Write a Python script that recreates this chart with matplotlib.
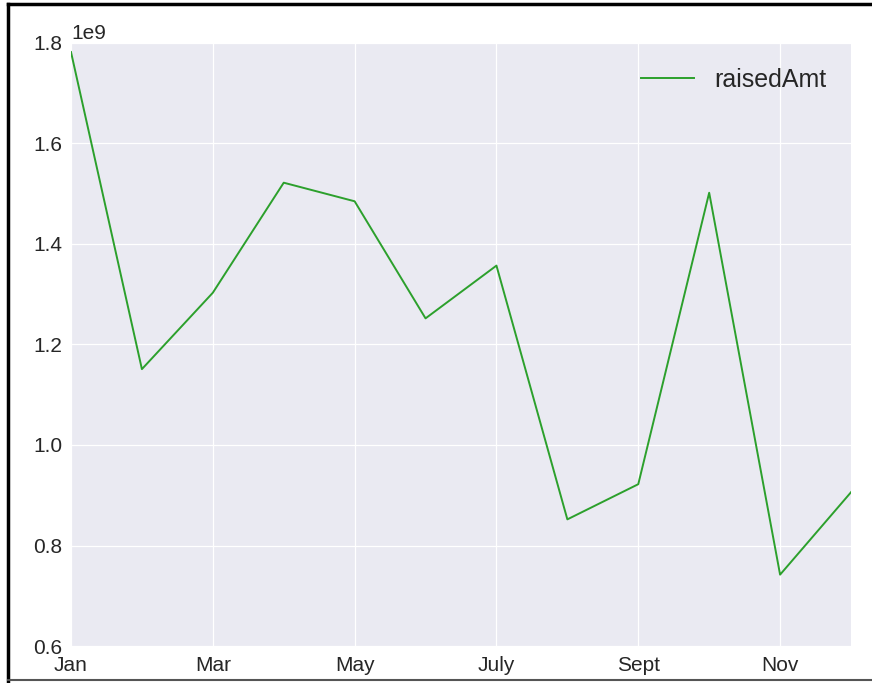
import matplotlib
matplotlib.use("Agg")
import matplotlib.pyplot as plt
from matplotlib.lines import Line2D

# Monthly amount raised
months = ["Jan", "Feb", "Mar", "Apr", "May", "June",
          "July", "Aug", "Sept", "Oct", "Nov", "Dec"]
raised_amt = [1.782e9, 1.151e9, 1.303e9, 1.522e9, 1.485e9, 1.252e9,
              1.357e9, 0.852e9, 0.922e9, 1.502e9, 0.742e9, 0.906e9]

tick_idx = [0, 2, 4, 6, 8, 10]

plt.rcParams["font.family"] = ["Liberation Sans", "DejaVu Sans"]
text_color = "#262626"

fig = plt.figure(figsize=(8.72, 6.83), dpi=100, facecolor="white")
ax = fig.add_axes([71 / 872, 1 - 646 / 683, (851 - 71) / 872, (646 - 43) / 683])
ax.set_facecolor("#EAEAF2")

x = list(range(len(months)))
ax.plot(x, raised_amt, color="#2ca02c", linewidth=1.4, label="raisedAmt")

ax.set_xlim(0, len(months) - 1)
ax.set_ylim(0.6e9, 1.8e9)
ax.set_xticks(tick_idx)
ax.set_xticklabels([months[i] for i in tick_idx])
ax.set_yticks([0.6e9, 0.8e9, 1.0e9, 1.2e9, 1.4e9, 1.6e9, 1.8e9])

ax.grid(True, color="white", linewidth=0.9)
ax.set_axisbelow(True)
for s in ax.spines.values():
    s.set_visible(False)
ax.tick_params(length=0, labelsize=15, colors=text_color)
ax.tick_params(axis="y", pad=6)
ax.tick_params(axis="x", pad=7)
ax.yaxis.get_offset_text().set_fontsize(15)
ax.yaxis.get_offset_text().set_color(text_color)

leg = ax.legend(loc="upper right", frameon=False, fontsize=18,
                handlelength=2.1, borderaxespad=0.6)
for t in leg.get_texts():
    t.set_color(text_color)

# Outer frame around the figure
frame_kw = dict(transform=fig.transFigure, color="black", linewidth=2.5)
fig.add_artist(Line2D([8 / 872, 8 / 872], [0, 1 - 4 / 683], **frame_kw))
fig.add_artist(Line2D([8 / 872, 1], [1 - 4 / 683, 1 - 4 / 683], **frame_kw))
fig.add_artist(Line2D([8 / 872, 1], [1 - 680 / 683, 1 - 680 / 683],
                      transform=fig.transFigure, color="#555555", linewidth=1.5))

fig.savefig("out.png", dpi=100, facecolor="white")
